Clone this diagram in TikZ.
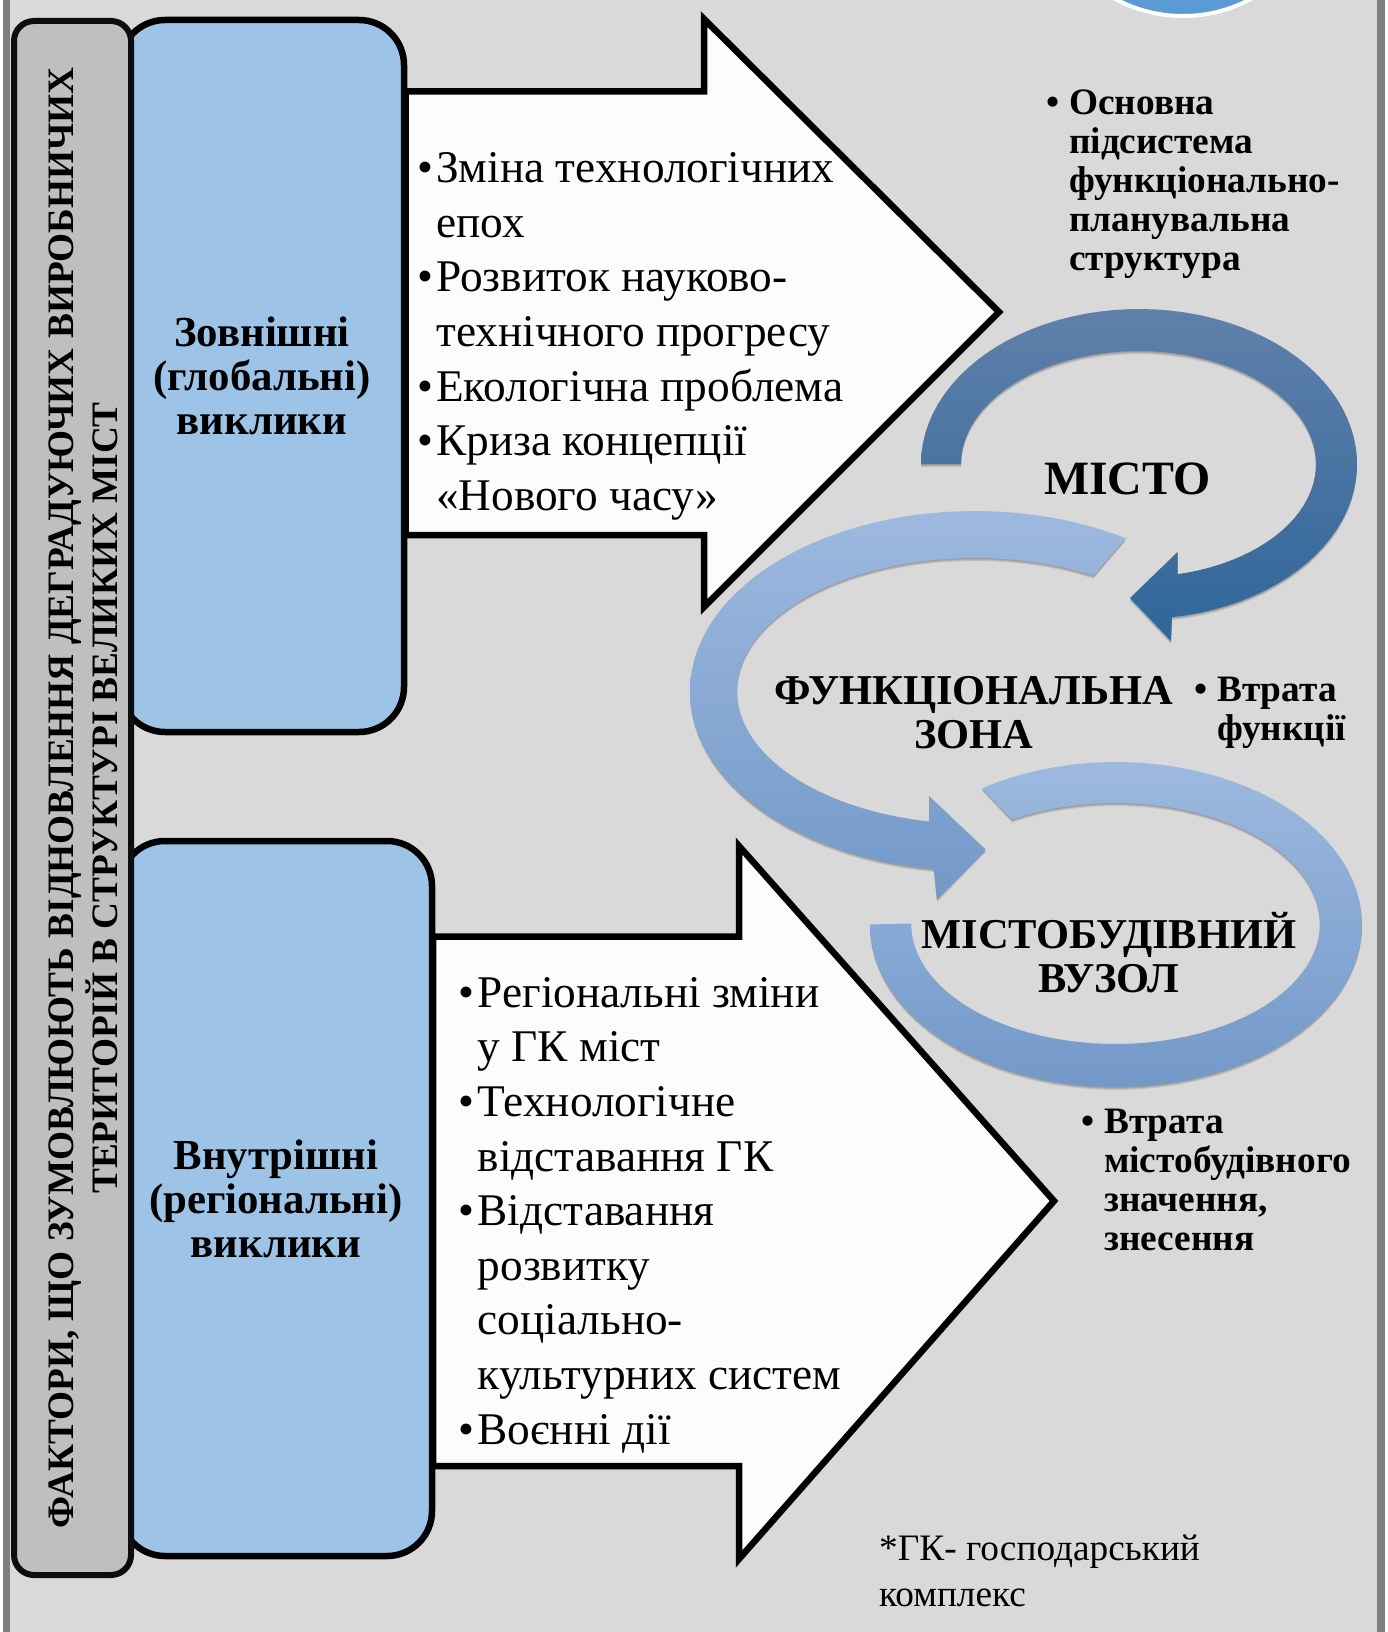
\documentclass[tikz,border=0pt]{standalone}
\usepackage{fontspec}
\setmainfont{Liberation Serif}
\newcommand{\fs}[2]{\fontsize{#1}{#2}\selectfont}
\newcommand{\ringOne}{(921,464) -- plot[domain=180:441.3,samples=70] ({1139+218*cos(\x)},{464+155*sin(\x)}) -- (1171,641) -- (1130,598) -- (1177.5,552) -- (1177.5,576) -- plot[domain=437.3:180,samples=70] ({1138.5+177.5*cos(\x)},{464+113*sin(\x)}) -- cycle}
\newcommand{\ringTwo}{(1126.5,537) -- plot[domain=-57.9:-261.7,samples=70] ({975+285*cos(\x)},{691+180*sin(\x)}) -- (937,899) -- (985.6,849.5) -- (929,796) -- (929,823) -- plot[domain=-258.9:-60.1,samples=70] ({975+238*cos(\x)},{691+133*sin(\x)}) -- cycle}
\newcommand{\ringThree}{(982,788) -- plot[domain=236.9:540,samples=80] ({1116+246*cos(\x)},{924.5+162.5*sin(\x)}) -- (911,923.5) -- plot[domain=540:239.6,samples=80] ({1115.5+204.5*cos(\x)},{923.5+120.5*sin(\x)}) -- cycle}
\definecolor{bgc}{HTML}{D9D9D9}
\definecolor{stripc}{HTML}{7F7F7F}
\definecolor{boxc}{HTML}{9DC3E6}
\definecolor{sidec}{HTML}{BFBFBF}
\definecolor{arrc}{HTML}{FCFCFC}
\definecolor{dotc}{HTML}{5B9BD5}
\definecolor{ringa}{HTML}{6080AA}
\definecolor{ringb}{HTML}{2F6699}
\definecolor{ringc}{HTML}{9DB9DF}
\definecolor{ringd}{HTML}{7399C9}
\tikzset{
 panel/.style={draw=black,line width=6.5pt,fill=boxc,rounded corners=45pt,inner sep=0pt,align=center,font=\fs{42.8}{44}\bfseries},
 sidepanel/.style={draw=black!95,line width=6pt,fill=sidec,rounded corners=20pt},
 bigarrow/.style={draw=black,line width=6.5pt,fill=arrc,miter limit=10},
 listtext/.style={inner sep=0pt,anchor=west,align=left,font=\fs{45.3}{54.6}},
 sidetext/.style={inner sep=0pt,anchor=west,align=left,font=\fs{37.3}{39}\bfseries},
 titletext/.style={inner sep=0pt,align=center,font=\fs{42.5}{44}\bfseries},
 citytext/.style={inner sep=0pt,align=center,font=\fs{47.8}{44}\bfseries},
 notetext/.style={inner sep=0pt,anchor=west,align=left,font=\fs{37.3}{45.8}},
 softshadow/.style={fill=black,fill opacity=.1}
}
\begin{document}
\begin{tikzpicture}[x=1pt,y=-1pt]
\useasboundingbox (0,0) rectangle (1387,1632);
\clip (0,0) rectangle (1387,1632);
\fill[white] (0,0) rectangle (1387,1632);
\fill[stripc] (3,0) rectangle (1385,1632);
\fill[bgc] (10,0) rectangle (1377,1632);
\fill[dotc,draw=white,line width=4pt] (1183,-127) circle[radius=143];
% panels
\node[panel,minimum width=284pt,minimum height=712pt] (outer) at (262,376) {Зовнішні\\(глобальні)\\виклики};
\node[panel,minimum width=312pt,minimum height=715pt] (inner) at (276,1198.5) {Внутрішні\\(регіональні)\\виклики};
% arrows
\draw[bigarrow] (405.5,91.5) -- (704,91.5) -- (704,19) -- (999,312) -- (704,607) -- (704,535) -- (405.5,535) -- cycle;
\draw[bigarrow] (433,936.5) -- (739,936.5) -- (739,846) -- (1054,1201) -- (739,1559) -- (739,1466) -- (433,1466) -- cycle;
% side panel
\node[sidepanel,minimum width=117pt,minimum height=1554pt,align=center] (side) at (72.5,798) {};
\node[inner sep=0pt,rotate=90,align=center,font=\fs{37.3}{44}\bfseries] (sidelabel) at (83.5,798) {ФАКТОРИ, ЩО ЗУМОВЛЮЮТЬ ВІДНОВЛЕННЯ ДЕГРАДУЮЧИХ ВИРОБНИЧИХ\\ТЕРИТОРІЙ В СТРУКТУРІ ВЕЛИКИХ МІСТ};
% rings
\foreach \d in {1,2,3}{
 \fill[softshadow,shift={(0,\d)}] \ringOne;
 \fill[softshadow,shift={(0,\d)}] \ringTwo;
 \fill[softshadow,shift={(0,\d)}] \ringThree;
}
\shade[top color=ringa,bottom color=ringb] \ringOne;
\shade[top color=ringc,bottom color=ringd] \ringTwo;
\shade[top color=ringc,bottom color=ringd] \ringThree;
% texts
\node[listtext] (listA) at (436,336.4) {\llap{•\hspace{3pt}}Зміна технологічних\\епох\\\llap{•\hspace{3pt}}Розвиток науково-\\технічного прогресу\\\llap{•\hspace{3pt}}Екологічна проблема\\\llap{•\hspace{3pt}}Криза концепції\\«Нового часу»};
\node[listtext] (listB) at (477.5,1215) {\llap{•\hspace{3pt}}Регіональні зміни\\у ГК міст\\\llap{•\hspace{3pt}}Технологічне\\відставання ГК\\\llap{•\hspace{3pt}}Відставання\\розвитку\\соціально-\\культурних систем\\\llap{•\hspace{3pt}}Воєнні дії};
\node[sidetext] (noteA) at (1069,184.6) {\llap{•\hspace{10pt}}Основна\\підсистема\\функціонально-\\планувальна\\структура};
\node[sidetext] (noteB) at (1217,713) {\llap{•\hspace{10pt}}Втрата\\функції};
\node[sidetext] (noteC) at (1104,1180) {\llap{•\hspace{10pt}}Втрата\\містобудівного\\значення,\\знесення};
\node[citytext] (city) at (1127.5,478.6) {МІСТО};
\node[titletext] (zone) at (974,713) {ФУНКЦІОНАЛЬНА\\ЗОНА};
\node[titletext] (hub) at (1109,953) {МІСТОБУДІВНИЙ\\ВУЗОЛ};
\node[notetext] (foot) at (879,1571) {*ГК- господарський\\комплекс};
\end{tikzpicture}
\end{document}
